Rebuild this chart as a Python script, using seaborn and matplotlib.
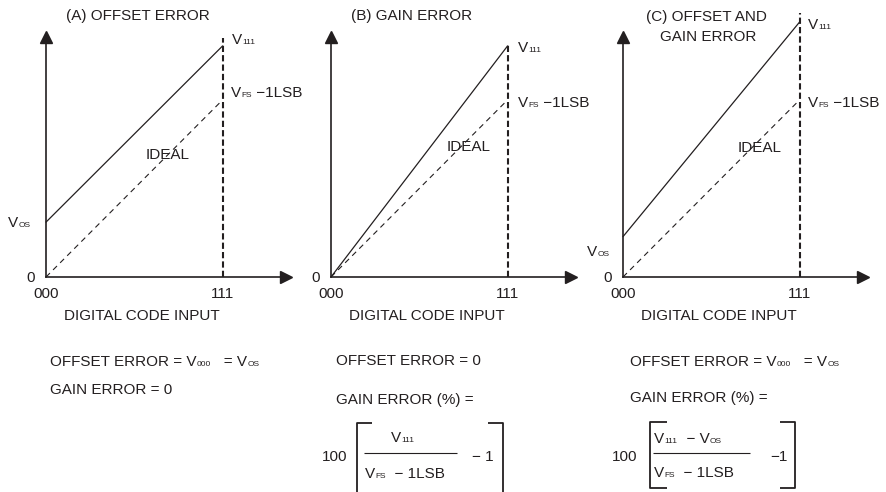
import matplotlib.pyplot as plt
import seaborn as sns
from matplotlib.lines import Line2D
from matplotlib.text import Annotation

# code axis: 000..111 -> 0..7, voltage normalised so that V_FS - 1LSB = 1
codes = [0, 7]
code_labels = ['000', '111']
ideal = [0.0, 1.0]
actual_offset = [0.31, 1.305]
actual_gain = [0.0, 1.305]
actual_both = [0.228, 1.44]
v111_top = [1.35, 1.32, 1.49]   # top of the dashed marker at code 111

W, H = 886, 492
INK = '#231f20'

sns.set_style('white')
plt.rcParams['font.family'] = ['Liberation Sans', 'DejaVu Sans']
plt.rcParams['text.color'] = INK

fig = plt.figure(figsize=(W / 100, H / 100), dpi=100)


def fx(x):
    return x / W


def fy(y):
    return 1 - y / H


def label(x, y, s, size=11, ha='left'):
    fig.text(fx(x), fy(y), s, fontsize=size, ha=ha, va='center')


def vlabel(x, y, parts, size=11, sub=6):
    # parts alternate normal text / subscript, chained left to right
    base = H - (y + 0.358 * size * 100 / 72)
    prev = None
    for i, s in enumerate(parts):
        is_sub = i % 2 == 1
        if prev is None:
            a = Annotation(s, xy=(x, base), xycoords='figure pixels',
                           fontsize=size, va='baseline', ha='left')
        else:
            a = Annotation(s, xy=(1, base), xycoords=(prev, 'figure pixels'),
                           xytext=(0.4 if is_sub else 0, 0), textcoords='offset points',
                           fontsize=sub if is_sub else size, va='baseline', ha='left')
        fig.add_artist(a)
        prev = a


def seg(xs, ys, lw=1.3):
    fig.add_artist(Line2D([fx(v) for v in xs], [fy(v) for v in ys],
                          color=INK, lw=lw, solid_capstyle='butt'))


origins = [46, 331, 623]
for ox, actual, top in zip(origins, [actual_offset, actual_gain, actual_both], v111_top):
    ax = fig.add_axes([fx(ox), fy(277), 240 / W, 240 / H])
    ax.set_facecolor('none')
    ax.set_xlim(0, 240 * 7 / 176.5)
    ax.set_ylim(0, 240 / 177)
    sns.lineplot(x=codes, y=ideal, ax=ax, color=INK, lw=0.8,
                 linestyle=(0, (5, 4)), clip_on=False)
    sns.lineplot(x=codes, y=actual, ax=ax, color=INK, lw=0.9, clip_on=False)
    ax.vlines(codes[1], 0, top, colors=INK, lw=1.5,
              linestyles=(0, (3, 1.5)), clip_on=False)
    sns.despine(ax=ax)
    for sp in ('left', 'bottom'):
        ax.spines[sp].set_color(INK)
        ax.spines[sp].set_linewidth(1.2)
    ax.plot(1, 0, '>', color=INK, ms=8, transform=ax.get_yaxis_transform(), clip_on=False)
    ax.plot(0, 1, '^', color=INK, ms=8, transform=ax.get_xaxis_transform(), clip_on=False)
    ax.set_xticks(codes, code_labels)
    ax.set_yticks([0], ['0'])
    ax.tick_params(length=0, labelsize=11, colors=INK)
    ax.tick_params(axis='x', pad=7)
    ax.tick_params(axis='y', pad=8)
    ax.set_xlabel('DIGITAL CODE INPUT', fontsize=11, color=INK)
    ax.xaxis.set_label_coords(0.40, -0.135)

# (A) offset error
label(138, 16, '(A) OFFSET ERROR', ha='center')
vlabel(232, 39, ['V', '111'])
vlabel(231, 92, ['V', 'FS', ' −1LSB'])
label(146, 155, 'IDEAL')
vlabel(8, 222, ['V', 'OS'])
vlabel(50, 361, ['OFFSET ERROR = V', '000', '   = V', 'OS'])
label(50, 390, 'GAIN ERROR = 0')

# (B) gain error
label(412, 16, '(B) GAIN ERROR', ha='center')
vlabel(518, 47, ['V', '111'])
vlabel(518, 102, ['V', 'FS', ' −1LSB'])
label(447, 147, 'IDEAL')
label(336, 361, 'OFFSET ERROR = 0')
label(336, 400, 'GAIN ERROR (%) =')
label(322, 457, '100')
vlabel(391, 437, ['V', '111'])
vlabel(365, 473, ['V', 'FS', '  − 1LSB'])
label(472, 457, '− 1')
seg([372, 357, 357], [423, 423, 495])
seg([488, 503, 503], [423, 423, 495])
seg([364, 457], [453, 453], lw=0.8)

# (C) offset and gain error
label(706, 17, '(C) OFFSET AND', ha='center')
label(708, 37, 'GAIN ERROR', ha='center')
vlabel(808, 24, ['V', '111'])
vlabel(808, 102, ['V', 'FS', ' −1LSB'])
label(738, 148, 'IDEAL')
vlabel(587, 251, ['V', 'OS'])
vlabel(630, 361, ['OFFSET ERROR = V', '000', '   = V', 'OS'])
label(630, 398, 'GAIN ERROR (%) =')
label(612, 457, '100')
vlabel(654, 438, ['V', '111', '  − V', 'OS'])
vlabel(654, 472, ['V', 'FS', '  − 1LSB'])
label(770, 457, '−1')
seg([667, 650, 650, 667], [422, 422, 488, 488])
seg([780, 795, 795, 780], [422, 422, 488, 488])
seg([653, 750], [453, 453], lw=0.8)

fig.savefig('out.png', dpi=100)
